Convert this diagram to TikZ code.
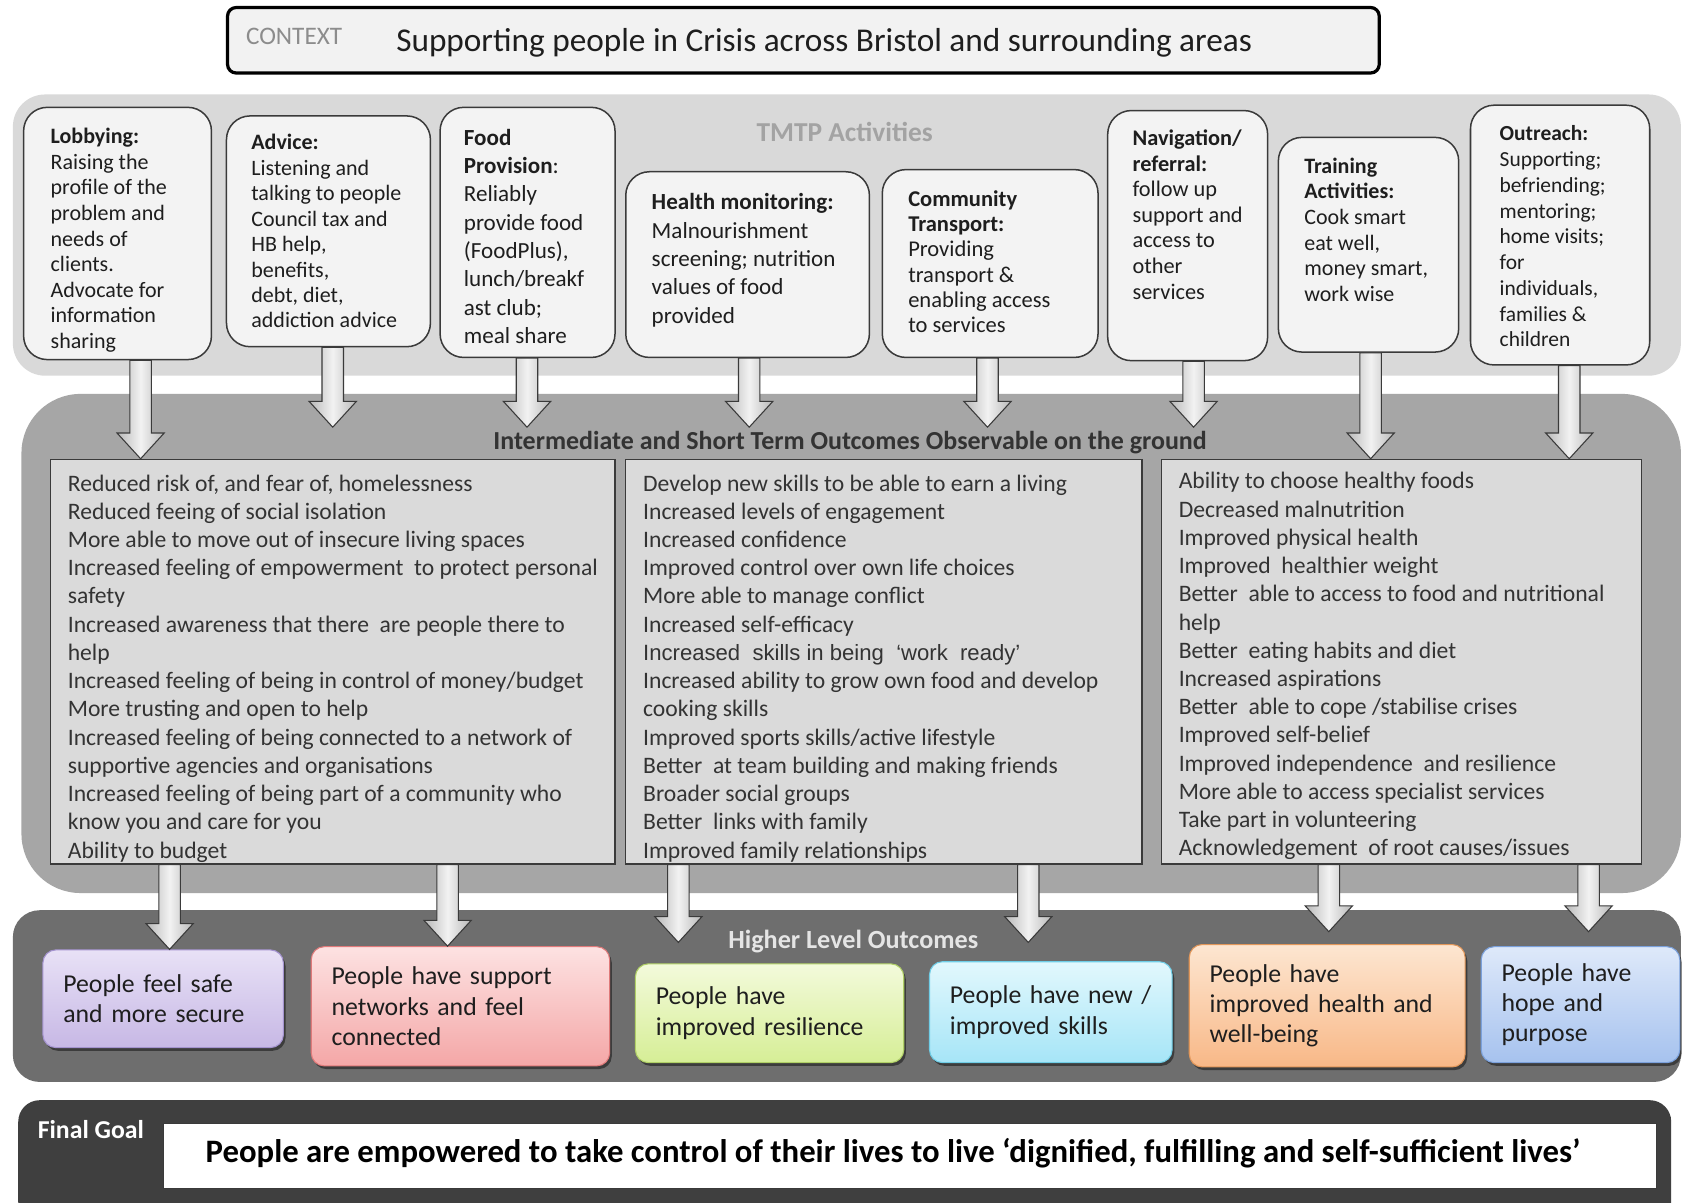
\documentclass[tikz,border=0pt]{standalone}
\usepackage{fontspec}
\setmainfont{Carlito}
\newfontfamily\arialfont{Liberation Sans}
\usetikzlibrary{calc,shadows}
\definecolor{ctxfill}{HTML}{F2F2F2}
\definecolor{ctxlabel}{HTML}{8C8C8C}
\definecolor{tmtpbg}{HTML}{D9D9D9}
\definecolor{tmtptitle}{HTML}{A3A3A3}
\definecolor{midbg}{HTML}{A6A6A6}
\definecolor{highbg}{HTML}{6E6E6E}
\definecolor{goalbg}{HTML}{3F3F3F}
\definecolor{boxline}{HTML}{3A3A3A}
\definecolor{actfill}{HTML}{F3F3F3}
\definecolor{outfill}{HTML}{DADADA}
\definecolor{txtdark}{HTML}{1E1E1E}
\definecolor{txtmid}{HTML}{333333}
\definecolor{arrowside}{HTML}{B8B8B8}
\definecolor{arrowmid}{HTML}{F2F2F2}
\definecolor{purpTop}{HTML}{E8E1F6}
\definecolor{purpBot}{HTML}{C7B8E5}
\definecolor{purpLine}{HTML}{A493CF}
\definecolor{pinkTop}{HTML}{FDE2E2}
\definecolor{pinkBot}{HTML}{F4A7A7}
\definecolor{pinkLine}{HTML}{E07A7A}
\definecolor{grnTop}{HTML}{F3FADB}
\definecolor{grnBot}{HTML}{D6EE96}
\definecolor{grnLine}{HTML}{B0D066}
\definecolor{cyanTop}{HTML}{E2F8FD}
\definecolor{cyanBot}{HTML}{A6E5F7}
\definecolor{cyanLine}{HTML}{6FCDE6}
\definecolor{orgTop}{HTML}{FDE6D1}
\definecolor{orgBot}{HTML}{F8B887}
\definecolor{orgLine}{HTML}{E2975A}
\definecolor{bluTop}{HTML}{DEE9FA}
\definecolor{bluBot}{HTML}{A6C2EE}
\definecolor{bluLine}{HTML}{7BA1DC}
\begin{document}
\begin{tikzpicture}[x=1pt,y=-1pt,
  actbox/.style={draw=boxline, line width=1.4pt, fill=actfill, rounded corners=22pt, inner sep=0pt},
  acttxt/.style={anchor=north west, inner sep=0pt, align=left, text=txtdark},
  outbox/.style={draw=boxline, line width=1.2pt, fill=outfill, inner sep=0pt},
  outtxt/.style={anchor=north west, inner sep=0pt, align=left, text=txtmid, font=\fontsize{22}{26.3}\selectfont},
  hbox/.style={rounded corners=12pt, line width=1pt, drop shadow={shadow xshift=2pt, shadow yshift=-3pt, opacity=0.45, fill=black},
    align=left, inner xsep=19pt, inner ysep=0pt, font=\fontsize{24}{28.3}\selectfont, text=txtdark},
  barrow/.style={draw=boxline, line width=1pt, left color=arrowside, right color=arrowside, middle color=arrowmid,
    to path={let \p1=(\tikztostart), \p2=(\tikztotarget) in
      (\x1-10pt,\y1) -- (\x1-10pt,\y2+24pt) -- (\x1-22pt,\y2+24pt) -- (\x1,\y2) -- (\x1+22pt,\y2+24pt) -- (\x1+10pt,\y2+24pt) -- (\x1+10pt,\y1) -- cycle}}
]
\useasboundingbox (0,0) rectangle (1568,1120);
\fill[white] (0,0) rectangle (1568,1120);

% bands
\fill[tmtpbg, rounded corners=30pt] (12,88) rectangle (1566,350);
\fill[midbg, rounded corners=55pt] (20,367) rectangle (1566,832);
\fill[highbg, rounded corners=25pt] (12,848) rectangle (1566,1008);
\fill[goalbg, rounded corners=20pt] (17,1025) rectangle (1557,1140);

% context
\node[draw=black, line width=3pt, fill=ctxfill, rounded corners=8pt, minimum width=1073pt, minimum height=61pt] (ctx) at (748.5,37.5) {};
\node[anchor=west, inner sep=0pt, text=ctxlabel, font=\fontsize{23.5}{26}\selectfont] (ctxlab) at (229,34) {CONTEXT};
\node[anchor=west, inner sep=0pt, text=txtdark, font=\fontsize{31}{34}\selectfont] (ctxtxt) at (369,40) {Supporting people in Crisis across Bristol and surrounding areas};

% titles
\node[text=tmtptitle, font=\bfseries\fontsize{25.5}{28}\selectfont] (tmtp) at (787,123) {TMTP Activities};
\node[text=txtmid, font=\bfseries\fontsize{24.2}{28}\selectfont] (imt) at (792,412) {Intermediate and Short Term Outcomes Observable on the ground};
\node[text=white!90!black, font=\bfseries\fontsize{24.4}{28}\selectfont] (hlt) at (795,877) {Higher Level Outcomes};

% arrow coordinates
\coordinate (ax1) at (131,0);
\coordinate (ax2) at (310,398);
\coordinate (ax3) at (491,398);
\coordinate (ax4) at (698,398);
\coordinate (ax5) at (920,398);
\coordinate (ax6) at (1112,398);
\coordinate (ax7) at (1277,0);
\coordinate (ax8) at (1462,0);
\coordinate (bx1) at (158,0);
\coordinate (bx2) at (417,0);
\coordinate (bx3) at (632,878);
\coordinate (bx4) at (958,878);
\coordinate (bx5) at (1238,868);
\coordinate (bx6) at (1480,868);

% activity boxes
\node[actbox, minimum width=175pt, minimum height=235pt] (lob) at (109.5,217.5) {};
\node[actbox, minimum width=190pt, minimum height=215pt] (adv) at (306,215.5) {};
\node[actbox, minimum width=163pt, minimum height=233pt] (food) at (491.5,216.5) {};
\node[actbox, minimum width=227pt, minimum height=173pt] (hlth) at (696.5,246.5) {};
\node[actbox, minimum width=201pt, minimum height=175pt] (comm) at (922.5,245.5) {};
\node[actbox, minimum width=149pt, minimum height=233pt] (nav) at (1106.5,219.5) {};
\node[actbox, minimum width=168pt, minimum height=200pt] (trn) at (1275,228) {};
\node[actbox, minimum width=167pt, minimum height=242pt] (outr) at (1453.5,219) {};

% outcome boxes
\node[outbox, minimum width=526pt, minimum height=377pt] (o1) at (310,616.5) {};
\node[outbox, minimum width=481pt, minimum height=377pt] (o2) at (823.5,616.5) {};
\node[outbox, minimum width=447pt, minimum height=377pt] (o3) at (1305.5,616.5) {};

% higher level boxes
\node[hbox, draw=purpLine, top color=purpTop, bottom color=purpBot, text width=186pt, minimum height=91pt] (h1) at (152,930.5) {People feel safe\\and more secure};
\node[hbox, draw=pinkLine, top color=pinkTop, bottom color=pinkBot, text width=240pt, minimum height=111pt] (h2) at (429,937.5) {People have support\\networks and feel\\connected};
\node[hbox, draw=grnLine, top color=grnTop, bottom color=grnBot, text width=212pt, minimum height=92pt] (h3) at (717,944) {People have\\improved resilience};
\node[hbox, draw=cyanLine, top color=cyanTop, bottom color=cyanBot, text width=188pt, minimum height=94pt] (h4) at (979,943) {People have new /\\improved skills};
\node[hbox, draw=orgLine, top color=orgTop, bottom color=orgBot, text width=219pt, minimum height=114pt] (h5) at (1236.5,937) {People have\\improved health and\\well-being};
\node[hbox, draw=bluLine, top color=bluTop, bottom color=bluBot, text width=147pt, minimum height=108pt] (h6) at (1472.5,936) {People have\\hope and\\purpose};

% arrows activities -> outcomes
\path[barrow] (lob.south -| ax1) to (o1.north -| ax1);
\path[barrow] (adv.south -| ax2) to (ax2);
\path[barrow] (food.south -| ax3) to (ax3);
\path[barrow] (hlth.south -| ax4) to (ax4);
\path[barrow] (comm.south -| ax5) to (ax5);
\path[barrow] (nav.south -| ax6) to (ax6);
\path[barrow] (trn.south -| ax7) to (o3.north -| ax7);
\path[barrow] (outr.south -| ax8) to (o3.north -| ax8);
% arrows outcomes -> higher
\path[barrow] (o1.south -| bx1) to (h1.north -| bx1);
\path[barrow] (o1.south -| bx2) to (h2.north -| bx2);
\path[barrow] (o2.south -| bx3) to (bx3);
\path[barrow] (o2.south -| bx4) to (bx4);
\path[barrow] (o3.south -| bx5) to (bx5);
\path[barrow] (o3.south -| bx6) to (bx6);

% activity texts
\node[acttxt, font=\fontsize{20.5}{23.9}\selectfont] (lobt) at (47,119) {\textbf{Lobbying:}\\Raising the\\profile of the\\problem and\\needs of\\clients.\\Advocate for\\information\\sharing};
\node[acttxt, font=\fontsize{20.5}{23.7}\selectfont] (advt) at (234,125) {\textbf{Advice:}\\Listening and\\talking to people\\Council tax and\\HB help,\\benefits,\\debt, diet,\\addiction advice};
\node[acttxt, font=\fontsize{21.5}{26.4}\selectfont] (foodt) at (432,120) {\textbf{Food}\\\textbf{Provision}:\\Reliably\\provide food\\(FoodPlus),\\lunch/breakf\\ast club;\\meal share};
\node[acttxt, font=\fontsize{21.5}{26.5}\selectfont] (hltht) at (607,180) {\textbf{Health monitoring:}\\Malnourishment\\screening; nutrition\\values of food\\provided};
\node[acttxt, font=\fontsize{21}{23.6}\selectfont] (commt) at (846,177) {\textbf{Community}\\\textbf{Transport:}\\Providing\\transport \&\\enabling access\\to services};
\node[acttxt, font=\fontsize{20.8}{23.8}\selectfont] (navt) at (1055,121) {\textbf{Navigation/}\\\textbf{referral:}\\follow up\\support and\\access to\\other\\services};
\node[acttxt, font=\fontsize{20.5}{23.8}\selectfont] (trnt) at (1215,147) {\textbf{Training}\\\textbf{Activities:}\\Cook smart\\eat well,\\money smart,\\work wise};
\node[acttxt, font=\fontsize{20}{24}\selectfont] (outrt) at (1397,117) {\textbf{Outreach:}\\Supporting;\\befriending;\\mentoring;\\home visits;\\for\\individuals,\\families \&\\children};

% outcome texts
\node[outtxt] (o1t) at (63,442) {Reduced risk of, and fear of, homelessness\\Reduced feeing of social isolation\\More able to move out of insecure living spaces\\Increased feeling of empowerment\ \ to protect personal\\safety\\Increased awareness that there\ \ are people there to\\help\\Increased feeling of being in control of money/budget\\More trusting and open to help\\Increased feeling of being connected to a network of\\supportive agencies and organisations\\Increased feeling of being part of a community who\\know you and care for you\\Ability to budget};
\node[outtxt] (o2t) at (599,442) {Develop new skills to be able to earn a living\\Increased levels of engagement\\Increased confidence\\Improved control over own life choices\\More able to manage conflict\\Increased self-efficacy\\{\arialfont\fontsize{20.6}{26.3}\selectfont Increased\ \ skills in being\ \ ‘work\ \ ready’}\\Increased ability to grow own food and develop\\cooking skills\\Improved sports skills/active lifestyle\\Better\ \ at team building and making friends\\Broader social groups\\Better\ \ links with family\\Improved family relationships};
\node[outtxt] (o3t) at (1098,440) {Ability to choose healthy foods\\Decreased malnutrition\\Improved physical health\\Improved\ \ healthier weight\\Better\ \ able to access to food and nutritional\\help\\Better\ \ eating habits and diet\\Increased aspirations\\Better\ \ able to cope /stabilise crises\\Improved self-belief\\Improved independence\ \ and resilience\\More able to access specialist services\\Take part in volunteering\\Acknowledgement\ \ of root causes/issues};

% final goal
\node[anchor=west, inner sep=0pt, text=white, font=\bfseries\fontsize{24}{26}\selectfont] (fglab) at (35,1052) {Final Goal};
\node[draw=boxline, line width=0.8pt, fill=white, minimum width=1391pt, minimum height=60pt, inner sep=0pt] (fgbox) at (847.5,1077) {};
\node[text=black, font=\bfseries\fontsize{30.5}{34}\selectfont] (fgtxt) at (832,1074) {People are empowered to take control of their lives to live ‘dignified, fulfilling and self-sufficient lives’};
\end{tikzpicture}
\end{document}
